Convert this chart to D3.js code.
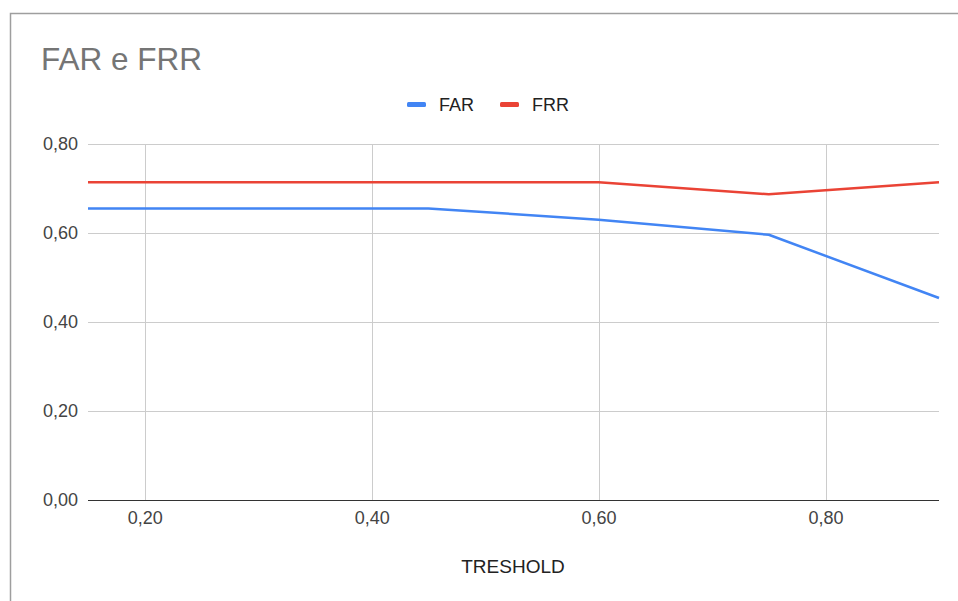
<!DOCTYPE html>
<html>
<head>
<meta charset="utf-8">
<script src="https://cdn.jsdelivr.net/npm/d3@7"></script>
<style>
  html, body { margin: 0; padding: 0; background: #fff; }
  svg { display: block; font-family: Arial, "Liberation Sans", sans-serif; }
</style>
</head>
<body>
<svg id="chart" width="958" height="601"></svg>
<script>
// Threshold values and the two error rates measured at each one
const thresholds = [0.15, 0.30, 0.45, 0.60, 0.75, 0.90];
const farValues  = [0.655, 0.655, 0.655, 0.630, 0.596, 0.454];
const frrValues  = [0.714, 0.714, 0.714, 0.714, 0.687, 0.714];
const seriesNames = ["FAR", "FRR"];
const seriesColors = ["#4285f4", "#ea4335"];
const xTicks = [0.20, 0.40, 0.60, 0.80];
const yTicks = [0.00, 0.20, 0.40, 0.60, 0.80];

const svg = d3.select("#chart");
const W = 958, H = 601;
const plot = { left: 88, right: 939, top: 144, bottom: 500 };
const FONT = "Arial, 'Liberation Sans', sans-serif";

const fmt = v => d3.format(".2f")(v).replace(".", ",");

// Outer frame (top and left edges)
svg.append("path")
  .attr("d", `M10.5,${H} L10.5,13.5 L${W},13.5`)
  .attr("fill", "none")
  .attr("stroke", "#9e9e9e")
  .attr("stroke-width", 1.5);

const x = d3.scaleLinear().domain([0.15, 0.90]).range([plot.left, plot.right]);
const y = d3.scaleLinear().domain([0, 0.80]).range([plot.bottom, plot.top]);

// Gridlines
const grid = svg.append("g");
grid.selectAll("line.h")
  .data(yTicks.filter(t => t > 0))
  .join("line")
  .attr("x1", plot.left).attr("x2", plot.right)
  .attr("y1", d => Math.round(y(d)) + 0.5).attr("y2", d => Math.round(y(d)) + 0.5)
  .attr("stroke", "#cccccc").attr("stroke-width", 1);
grid.selectAll("line.v")
  .data(xTicks)
  .join("line")
  .attr("x1", d => Math.round(x(d)) + 0.5).attr("x2", d => Math.round(x(d)) + 0.5)
  .attr("y1", plot.top).attr("y2", plot.bottom)
  .attr("stroke", "#cccccc").attr("stroke-width", 1);

// Y axis labels
const yAxis = d3.axisLeft(y).tickValues(yTicks).tickFormat(fmt).tickSize(0).tickPadding(10);
svg.append("g")
  .attr("transform", `translate(${plot.left},0)`)
  .call(yAxis)
  .call(g => g.select(".domain").remove())
  .call(g => g.selectAll("text")
    .attr("font-size", 18)
    .attr("fill", "#444")
    .attr("font-family", FONT));

// X axis labels
const xAxis = d3.axisBottom(x).tickValues(xTicks).tickFormat(fmt).tickSize(0).tickPadding(11);
svg.append("g")
  .attr("transform", `translate(0,${plot.bottom})`)
  .call(xAxis)
  .call(g => g.select(".domain").remove())
  .call(g => g.selectAll("text")
    .attr("font-size", 18)
    .attr("fill", "#444")
    .attr("font-family", FONT));

// Baseline
svg.append("line")
  .attr("x1", plot.left).attr("x2", plot.right)
  .attr("y1", plot.bottom + 0.5).attr("y2", plot.bottom + 0.5)
  .attr("stroke", "#333").attr("stroke-width", 1.2);

// Series lines
const series = [farValues, frrValues];
const line = d3.line()
  .x((d, i) => x(thresholds[i]))
  .y(d => y(d));
svg.append("g")
  .selectAll("path")
  .data(series)
  .join("path")
  .attr("d", d => line(d))
  .attr("fill", "none")
  .attr("stroke", (d, i) => seriesColors[i])
  .attr("stroke-width", 2.5)
  .attr("stroke-linejoin", "round");

// Title
svg.append("text")
  .attr("x", 41).attr("y", 70)
  .attr("font-size", 31.5)
  .attr("fill", "#757575")
  .text("FAR e FRR");

// Legend
const legendX = [407, 500];
const legend = svg.append("g");
seriesNames.forEach((name, i) => {
  legend.append("rect")
    .attr("x", legendX[i]).attr("y", 102)
    .attr("width", 19).attr("height", 5)
    .attr("rx", 1.5)
    .attr("fill", seriesColors[i]);
  legend.append("text")
    .attr("x", legendX[i] + 32).attr("y", 111)
    .attr("font-size", 18)
    .attr("fill", "#222")
    .text(name);
});

// X axis title
svg.append("text")
  .attr("x", 513).attr("y", 573)
  .attr("text-anchor", "middle")
  .attr("font-size", 19)
  .attr("fill", "#222")
  .text("TRESHOLD");
</script>
</body>
</html>
